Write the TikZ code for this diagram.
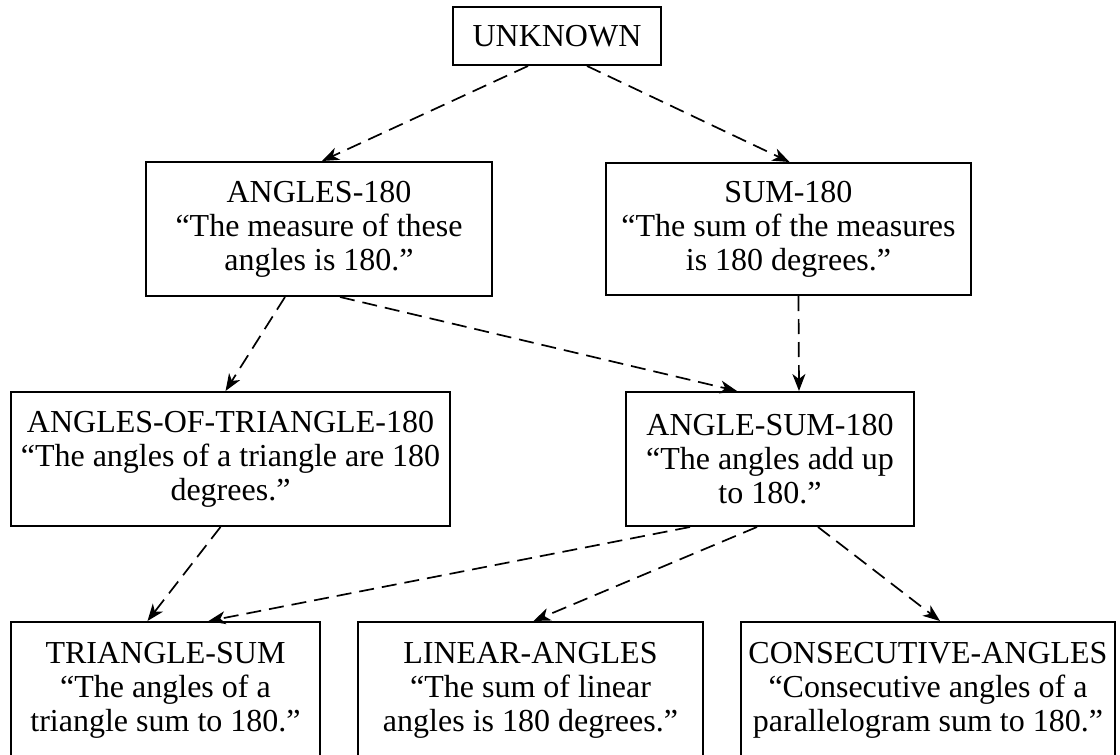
\documentclass[tikz,border=0pt]{standalone}
\usepackage{fontspec}
\setmainfont{Liberation Serif}
\usetikzlibrary{arrows.meta}

\begin{document}
\begin{tikzpicture}[x=1pt,y=-1pt,
  box/.style={draw,line width=2pt,align=center,inner sep=0pt,
    font=\fontsize{32}{34}\selectfont},
  dep/.style={-{Stealth[length=17pt,width=13pt,inset=5pt]},line width=1.7pt,
    dash pattern=on 15pt off 8pt}]
  \useasboundingbox (0,0) rectangle (1120,755);
  % Top goal
  \node[box,minimum width=208pt,minimum height=58pt] (unknown) at (557,36) {UNKNOWN};
  % Second row
  \node[box,minimum width=346pt,minimum height=134pt] (angles) at (319,229)
    {ANGLES-180\\``The measure of these\\angles is 180.''};
  \node[box,minimum width=365pt,minimum height=132pt] (sum) at (788.5,229)
    {SUM-180\\``The sum of the measures\\is 180 degrees.''};
  % Third row
  \node[box,minimum width=439pt,minimum height=134pt] (aot) at (230.5,459)
    {ANGLES-OF-TRIANGLE-180\\``The angles of a triangle are 180\\degrees.''};
  \node[box,minimum width=288pt,minimum height=134pt] (asum) at (770,459)
    {ANGLE-SUM-180\\``The angles add up\\to 180.''};
  % Bottom row
  \node[box,minimum width=309pt,minimum height=136pt] (tsum) at (165.5,690)
    {TRIANGLE-SUM\\``The angles of a\\triangle sum to 180.''};
  \node[box,minimum width=345pt,minimum height=136pt] (linear) at (530.5,690)
    {LINEAR-ANGLES\\``The sum of linear\\angles is 180 degrees.''};
  \node[box,minimum width=374pt,minimum height=136pt] (consec) at (928,690)
    {CONSECUTIVE-ANGLES\\``Consecutive angles of a\\parallelogram sum to 180.''};
  % Dependencies
  \draw[dep] ([xshift=-29pt]unknown.south) -- ([xshift=3pt]angles.north);
  \draw[dep] ([xshift=30pt]unknown.south) -- ([xshift=1pt]sum.north);
  \draw[dep] ([xshift=-34pt]angles.south) -- ([xshift=-5pt]aot.north);
  \draw[dep] ([xshift=21pt]angles.south) -- ([xshift=-33pt]asum.north);
  \draw[dep] ([xshift=10pt]sum.south) -- ([xshift=29pt]asum.north);
  \draw[dep] ([xshift=-10pt]aot.south) -- ([xshift=-18pt]tsum.north);
  \draw[dep] ([xshift=-80pt]asum.south) -- ([xshift=43pt]tsum.north);
  \draw[dep] ([xshift=-13pt]asum.south) -- ([xshift=3pt]linear.north);
  \draw[dep] ([xshift=48pt]asum.south) -- ([xshift=12pt]consec.north);
\end{tikzpicture}
\end{document}
